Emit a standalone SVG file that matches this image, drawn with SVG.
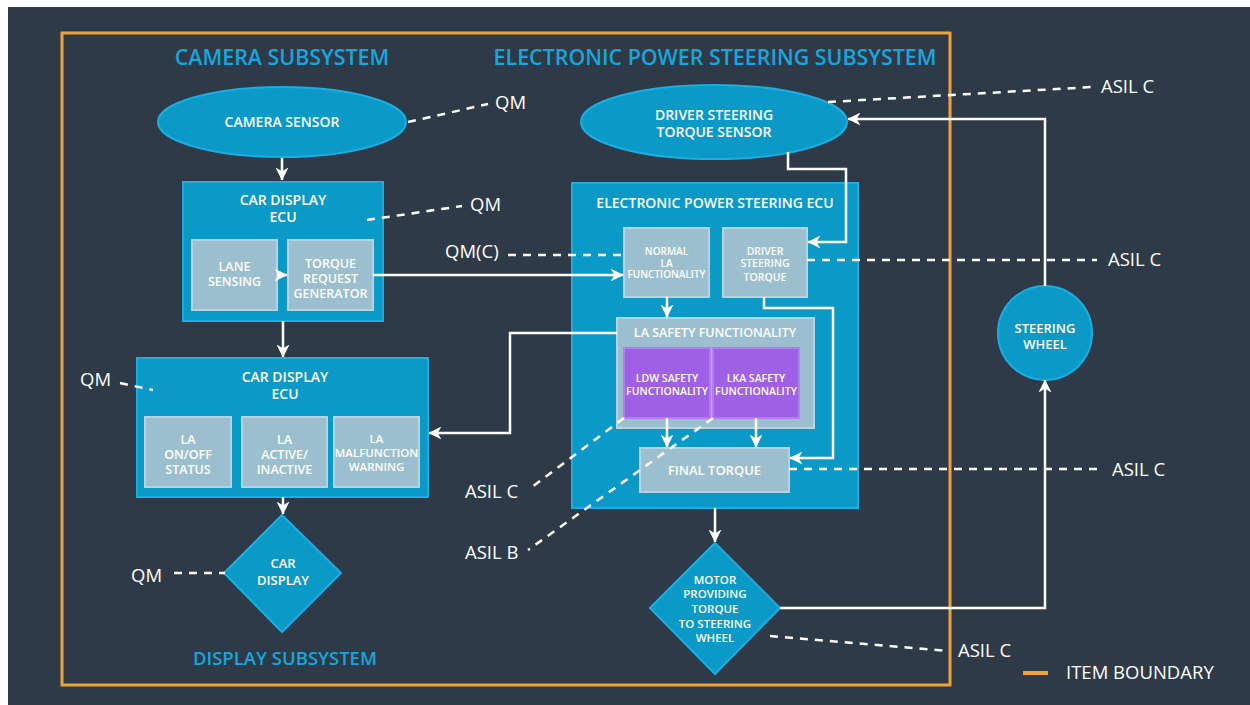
<svg xmlns="http://www.w3.org/2000/svg" width="1250" height="705" viewBox="0 0 1250 705">
<defs>
<marker id="arr" viewBox="0 0 12 12" refX="11.5" refY="6" markerWidth="13" markerHeight="13" markerUnits="userSpaceOnUse" orient="auto">
<path d="M0,0 L12,6 L0,12 L3.5,6 z" fill="#ffffff"/>
</marker>
<style>
text{font-family:"Open Sans","Liberation Sans",sans-serif;fill:#ffffff;font-weight:600;text-anchor:middle}
.title{fill:#17a6dc;font-size:21.4px}
.lbl{font-size:18.5px;font-weight:400;text-anchor:start}
.blue{fill:#0b99c8;stroke:#1aaee2;stroke-width:2}
.grey{fill:#9cbfd0;stroke:#b6d3e1;stroke-width:2}
.purple{fill:#a060e6;stroke:#b27cf3;stroke-width:2}
.conn{fill:none;stroke:#ffffff;stroke-width:2.5}
.dash{fill:none;stroke:#ffffff;stroke-width:2.5;stroke-dasharray:8 7}
</style>
</defs>
<rect x="0" y="0" width="1250" height="705" fill="#ffffff"/>
<rect x="8" y="7" width="1242" height="698" fill="#2e3a48"/>
<g id="item-boundary">
<rect x="62" y="33" width="888" height="652" fill="none" stroke="#f0a23a" stroke-width="3"/>
</g>
<g id="subsystem-titles">
<text class="title" x="282" y="65">CAMERA SUBSYSTEM</text>
<text class="title" x="715" y="65">ELECTRONIC POWER STEERING SUBSYSTEM</text>
<text class="title" x="285" y="665" style="font-size:18.5px">DISPLAY SUBSYSTEM</text>
</g>
<g id="camera-sensor">
<ellipse class="blue" cx="282" cy="122" rx="124" ry="35"/>
<text x="282" y="127" style="font-size:14px">CAMERA SENSOR</text>
</g>
<g id="car-display-ecu-camera">
<rect class="blue" x="183" y="182" width="200" height="139"/>
<text x="283" y="205" style="font-size:14px">CAR DISPLAY</text>
<text x="283" y="222" style="font-size:14px">ECU</text>
</g>
<g id="lane-sensing">
<rect class="grey" x="192" y="240" width="85" height="70"/>
<text x="234.5" y="270.5" style="font-size:12.5px">LANE</text>
<text x="234.5" y="285.5" style="font-size:12.5px">SENSING</text>
</g>
<g id="torque-request-generator">
<rect class="grey" x="288" y="240" width="85" height="70"/>
<text x="330.5" y="267.5" style="font-size:12.5px">TORQUE</text>
<text x="330.5" y="282.5" style="font-size:12.5px">REQUEST</text>
<text x="330.5" y="297.5" style="font-size:12.5px">GENERATOR</text>
</g>
<g id="driver-steering-torque-sensor">
<ellipse class="blue" cx="714" cy="122" rx="133" ry="37"/>
<text x="714" y="120" style="font-size:14px">DRIVER STEERING</text>
<text x="714" y="137" style="font-size:14px">TORQUE SENSOR</text>
</g>
<g id="eps-ecu">
<rect class="blue" x="572" y="183" width="286" height="325"/>
<text x="715" y="208" style="font-size:14px">ELECTRONIC POWER STEERING ECU</text>
</g>
<g id="normal-la-functionality">
<rect class="grey" x="624" y="228" width="85" height="69"/>
<text x="666.5" y="254.5" style="font-size:10px">NORMAL</text>
<text x="666.5" y="266.5" style="font-size:10px">LA</text>
<text x="666.5" y="278" style="font-size:10px">FUNCTIONALITY</text>
</g>
<g id="driver-steering-torque">
<rect class="grey" x="723" y="228" width="84" height="69"/>
<text x="765" y="254.5" style="font-size:10.5px">DRIVER</text>
<text x="765" y="267" style="font-size:10.5px">STEERING</text>
<text x="765" y="280.5" style="font-size:10.5px">TORQUE</text>
</g>
<g id="la-safety-functionality">
<rect class="grey" x="617" y="318" width="197" height="110"/>
<text x="715" y="336.5" style="font-size:12.5px">LA SAFETY FUNCTIONALITY</text>
</g>
<g id="ldw-safety-functionality">
<rect class="purple" x="624" y="348" width="86" height="70"/>
<text x="667" y="381.8" style="font-size:10.5px">LDW SAFETY</text>
<text x="667" y="394.8" style="font-size:10.5px">FUNCTIONALITY</text>
</g>
<g id="lka-safety-functionality">
<rect class="purple" x="713" y="348" width="86" height="70"/>
<text x="756" y="381.8" style="font-size:10.5px">LKA SAFETY</text>
<text x="756" y="394.8" style="font-size:10.5px">FUNCTIONALITY</text>
</g>
<g id="final-torque">
<rect class="grey" x="640" y="448" width="149" height="44"/>
<text x="714.5" y="474.7" style="font-size:13px">FINAL TORQUE</text>
</g>
<g id="car-display-ecu-display">
<rect class="blue" x="137" y="358" width="291" height="139"/>
<text x="285" y="382" style="font-size:14px">CAR DISPLAY</text>
<text x="285" y="399" style="font-size:14px">ECU</text>
</g>
<g id="la-on-off-status">
<rect class="grey" x="145" y="417" width="86" height="70"/>
<text x="188" y="443.5" style="font-size:12.5px">LA</text>
<text x="188" y="458.5" style="font-size:12.5px">ON/OFF</text>
<text x="188" y="473.5" style="font-size:12.5px">STATUS</text>
</g>
<g id="la-active-inactive">
<rect class="grey" x="242" y="417" width="85" height="70"/>
<text x="284.5" y="443.5" style="font-size:12.5px">LA</text>
<text x="284.5" y="458.5" style="font-size:12.5px">ACTIVE/</text>
<text x="284.5" y="473.5" style="font-size:12.5px">INACTIVE</text>
</g>
<g id="la-malfunction-warning">
<rect class="grey" x="334" y="417" width="85" height="70"/>
<text x="376.5" y="443" style="font-size:11.5px">LA</text>
<text x="376.5" y="457" style="font-size:11.5px">MALFUNCTION</text>
<text x="376.5" y="471" style="font-size:11.5px">WARNING</text>
</g>
<g id="car-display">
<polygon class="blue" points="282,515 341,573 282,632 224,573"/>
<text x="283" y="567.7" style="font-size:13px">CAR</text>
<text x="283" y="584.7" style="font-size:13px">DISPLAY</text>
</g>
<g id="motor">
<polygon class="blue" points="715,543 780,608 715,674 650,608"/>
<text x="715" y="584" style="font-size:11.5px">MOTOR</text>
<text x="715" y="598" style="font-size:11.5px">PROVIDING</text>
<text x="715" y="613" style="font-size:11.5px">TORQUE</text>
<text x="715" y="628" style="font-size:11.5px">TO STEERING</text>
<text x="715" y="642" style="font-size:11.5px">WHEEL</text>
</g>
<g id="steering-wheel">
<circle class="blue" cx="1045" cy="333" r="47"/>
<text x="1045" y="332.7" style="font-size:13px">STEERING</text>
<text x="1045" y="348.7" style="font-size:13px">WHEEL</text>
</g>
<g id="connectors">
<path class="conn" d="M282,158 V180" marker-end="url(#arr)"/>
<path class="conn" d="M277,275 H287" marker-end="url(#arr)"/>
<path class="conn" d="M373,275 H623" marker-end="url(#arr)"/>
<path class="conn" d="M283,321 V357" marker-end="url(#arr)"/>
<path class="conn" d="M283,497 V514" marker-end="url(#arr)"/>
<path class="conn" d="M788,152 V169 H846 V242 H808" marker-end="url(#arr)"/>
<path class="conn" d="M764,297 V308 H833 V458 H790" marker-end="url(#arr)"/>
<path class="conn" d="M667,297 V317" marker-end="url(#arr)"/>
<path class="conn" d="M617,333 H510 V433 H429" marker-end="url(#arr)"/>
<path class="conn" d="M667,418 V447" marker-end="url(#arr)"/>
<path class="conn" d="M756,418 V447" marker-end="url(#arr)"/>
<path class="conn" d="M715,508 V542" marker-end="url(#arr)"/>
<path class="conn" d="M780,608 H1045 V380" marker-end="url(#arr)"/>
<path class="conn" d="M1045,286 V119 H848" marker-end="url(#arr)"/>
<path class="dash" d="M408,122 L488,104"/>
<path class="dash" d="M367,220 L462,206"/>
<path class="dash" d="M508,255 H624"/>
<path class="dash" d="M828,102 L1092,87"/>
<path class="dash" d="M807,260 H1097"/>
<path class="dash" d="M789,469 H1097"/>
<path class="dash" d="M770,636 L948,651"/>
<path class="dash" d="M120,383 L153,390"/>
<path class="dash" d="M174,573 H225"/>
<path class="dash" d="M624,418 L528,490"/>
<path class="dash" d="M713,418 L528,550"/>
</g>
<g id="labels">
<text class="lbl" x="495" y="109">QM</text>
<text class="lbl" x="470" y="211">QM</text>
<text class="lbl" x="445" y="258">QM(C)</text>
<text class="lbl" x="80" y="386">QM</text>
<text class="lbl" x="131" y="582">QM</text>
<text class="lbl" x="1101" y="93">ASIL C</text>
<text class="lbl" x="1108" y="266">ASIL C</text>
<text class="lbl" x="1112" y="476">ASIL C</text>
<text class="lbl" x="958" y="657">ASIL C</text>
<text class="lbl" x="465" y="498">ASIL C</text>
<text class="lbl" x="465" y="559">ASIL B</text>
</g>
<g id="legend">
<line x1="1023" y1="673" x2="1048" y2="673" stroke="#f0a23a" stroke-width="4"/>
<text class="lbl" x="1066" y="679">ITEM BOUNDARY</text>
</g>
</svg>
